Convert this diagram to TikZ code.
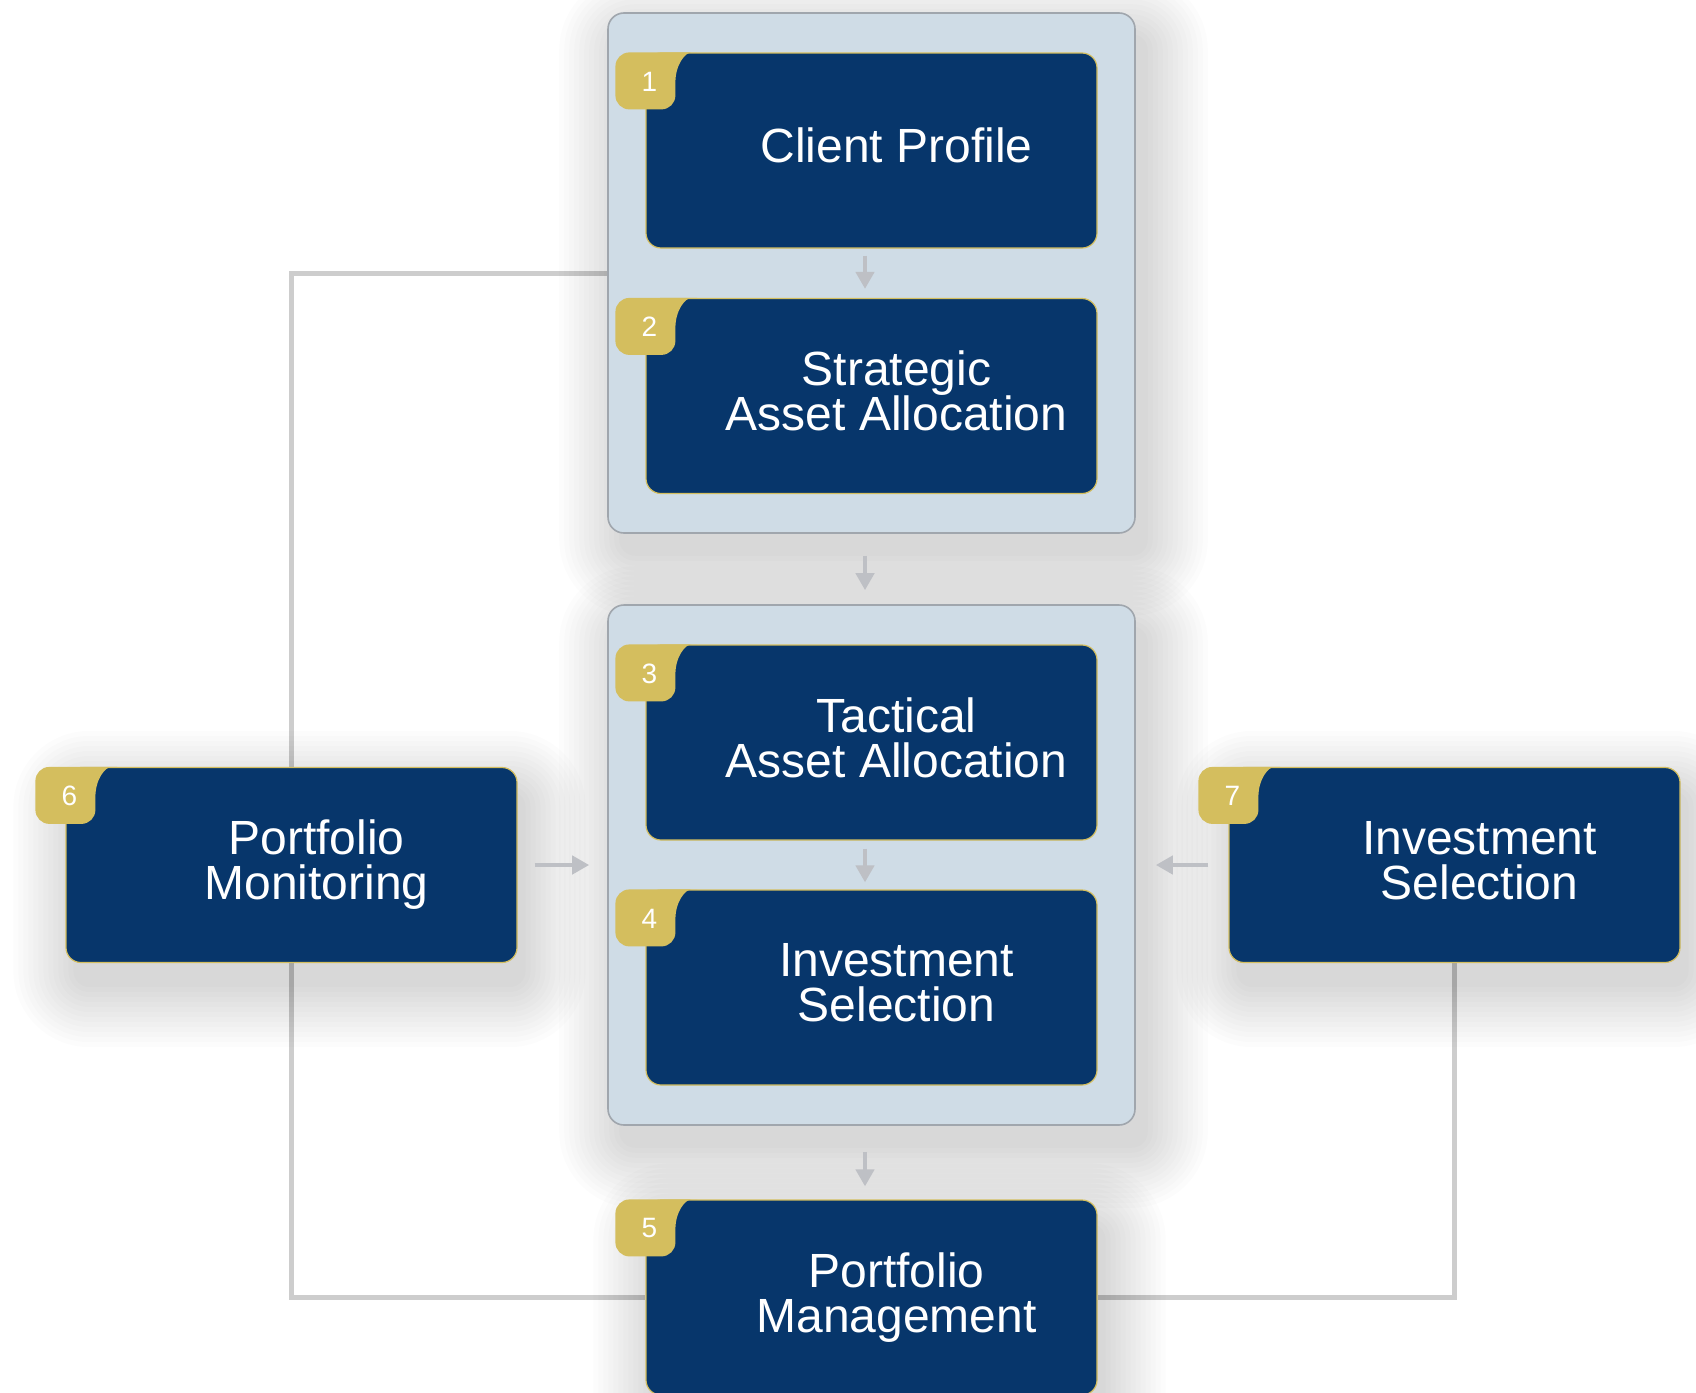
\documentclass[tikz,border=0pt]{standalone}
\usepackage{fontspec}
\setmainfont{Liberation Sans}
\usetikzlibrary{arrows.meta,calc,backgrounds}
\definecolor{navy}{RGB}{7,54,107}
\definecolor{gold}{RGB}{212,190,94}
\definecolor{clfill}{RGB}{207,220,230}
\definecolor{clborder}{RGB}{160,166,173}
\definecolor{arrowgray}{RGB}{190,192,197}
\definecolor{fbgray}{RGB}{205,205,205}
\tikzset{
 box/.style={rectangle, rounded corners=7.5pt, fill=navy, draw=gold, line width=0.6pt,
   minimum width=225.5pt, minimum height=97.5pt, inner sep=0pt},
 cluster/.style={rectangle, rounded corners=8pt, fill=clfill, draw=clborder, line width=0.8pt,
   minimum width=263.5pt, minimum height=260pt, inner sep=0pt},
 lbl/.style={text=white, font=\fontsize{24}{22.5}\selectfont, align=center, inner sep=0pt},
 num/.style={text=white, font=\fontsize{14}{16}\selectfont, inner sep=0pt},
 flow/.style={draw=arrowgray, line width=2.4pt, -{Triangle[width=9pt,length=8.5pt]}},
 fb/.style={draw=fbgray, line width=2.5pt},
}
\newcommand\numbadge[2]{%
 \fill[gold, rounded corners=7pt] ($(#1.north west)+(30,30)$) -- ($(#1.north west)+(30,57)$)
   -- ($(#1.north west)+(-30,57)$) -- ($(#1.north west)+(-30,0)$) -- ($(#1.north west)+(60,0)$)
   [sharp corners] .. controls ($(#1.north west)+(40,0)$) and ($(#1.north west)+(30,12)$) .. ($(#1.north west)+(30,30)$) -- cycle;
 \node[num] (b#2) at ($(#1.north west)+(4,29)$) {#2};
}
\newcommand\softshadow[3]{%
 \foreach \s in {0,5,...,60}{%
   \pgfmathsetmacro\rr{8+\s*0.5}%
   \fill[black, opacity=0.012, rounded corners=\rr pt]
     ($(#1.north west)+(#2-\s,#3-\s)$) rectangle ($(#1.south east)+(#2+\s,#3+\s)$);
 }%
}
\begin{document}
\begin{tikzpicture}[x=0.5pt,y=-0.5pt]
\useasboundingbox (0,0) rectangle (1696,1392);
% clusters
\node[cluster] (c1) at (871.5,273) {};
\node[cluster] (c2) at (871.5,865) {};
% boxes
\node[box, label={[lbl,xshift=12.5pt]center:{Portfolio\\Monitoring\vphantom{g}}}] (n6) at (291.5,865) {};
\node[box, label={[lbl,xshift=12.5pt]center:{Investment\\Selection\vphantom{g}}}] (n7) at (1454.5,865) {};
\node[box, label={[lbl,xshift=12.5pt]center:{Client Profile\vphantom{g}}}] (n1) at (871.5,150.5) {};
\node[box, label={[lbl,xshift=12.5pt]center:{Strategic\\Asset Allocation\vphantom{g}}}] (n2) at (871.5,396) {};
\node[box, label={[lbl,xshift=12.5pt]center:{Tactical\\Asset Allocation\vphantom{g}}}] (n3) at (871.5,742.5) {};
\node[box, label={[lbl,xshift=12.5pt]center:{Investment\\Selection\vphantom{g}}}] (n4) at (871.5,987.5) {};
\node[box, label={[lbl,xshift=12.5pt]center:{Portfolio\\Management\vphantom{g}}}] (n5) at (871.5,1297.5) {};
% background: white, feedback lines, shadows
\begin{pgfonlayer}{background}
\fill[white] (0,0) rectangle (1696,1392);
\draw[fb] (c1.west) -| (n6.north);
\draw[fb] (n6.south) |- (n5.west);
\draw[fb] (n7.south) |- (n5.east);
\softshadow{c1}{12}{22}
\softshadow{c2}{12}{22}
\softshadow{n6}{8}{24}
\softshadow{n7}{8}{24}
\softshadow{n5}{8}{24}
\end{pgfonlayer}
% badges
\numbadge{n1}{1}
\numbadge{n2}{2}
\numbadge{n3}{3}
\numbadge{n4}{4}
\numbadge{n5}{5}
\numbadge{n6}{6}
\numbadge{n7}{7}
% arrows
\draw[flow, shorten <=3.5pt, shorten >=4.5pt] ([xshift=-3.25pt]n1.south) -- ([xshift=-3.25pt]n2.north);
\draw[flow, shorten <=11pt, shorten >=7pt] ([xshift=-3.25pt]c1.south) -- ([xshift=-3.25pt]c2.north);
\draw[flow, shorten <=4pt, shorten >=3.5pt] ([xshift=-3.25pt]n3.south) -- ([xshift=-3.25pt]n4.north);
\draw[flow, shorten <=13pt, shorten >=6.5pt] ([xshift=-3.25pt]c2.south) -- ([xshift=-3.25pt]n5.north);
\draw[flow, shorten <=8.5pt, shorten >=9pt] (n6.east) -- (c2.west);
\draw[flow, shorten <=10pt, shorten >=10pt] (n7.west) -- (c2.east);
\end{tikzpicture}
\end{document}
